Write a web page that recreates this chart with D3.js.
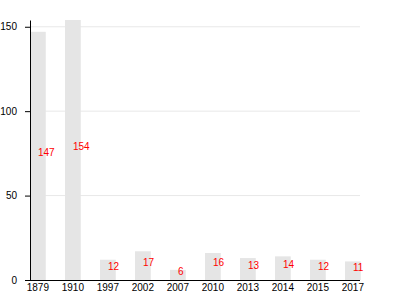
<!DOCTYPE html>
<html>
<head>
<meta charset="utf-8">
<script src="https://cdn.jsdelivr.net/npm/d3@7"></script>
<style>
  body { margin: 0; background: #fff; }
  svg { font-family: Arial, "Liberation Sans", sans-serif; }
</style>
</head>
<body>
<svg></svg>
<script>
// данные
const years = ["1879", "1910", "1997", "2002", "2007", "2010", "2013", "2014", "2015", "2017"];
const values = [147, 154, 12, 17, 6, 16, 13, 14, 12, 11];
const yTicks = [0, 50, 100, 150];

const width = 400;
const height = 300;
const plotLeft = 30, plotRight = 360.75, plotTop = 20, plotBottom = 280;

const svg = d3.select("svg")
  .attr("width", width)
  .attr("height", height);

const x = d3.scaleBand()
  .domain(years)
  .range([plotLeft, plotRight])
  .paddingInner(0.55)
  .paddingOuter(0);

const y = d3.scaleLinear()
  .domain([0, d3.max(values)])
  .range([plotBottom, plotTop]);

// сетка
svg.append("g")
  .selectAll("line")
  .data(yTicks.filter(t => t > 0))
  .join("line")
  .attr("x1", plotLeft)
  .attr("x2", 360)
  .attr("y1", d => y(d))
  .attr("y2", d => y(d))
  .attr("stroke", "#e8e8e8")
  .attr("stroke-width", 1);

const data = years.map((yr, i) => ({ year: yr, value: values[i] }));

// столбцы
svg.append("g")
  .selectAll("rect")
  .data(data)
  .join("rect")
  .attr("x", d => x(d.year))
  .attr("y", d => y(d.value))
  .attr("width", x.bandwidth())
  .attr("height", d => plotBottom - y(d.value))
  .attr("fill", "#e5e5e5");

// подписи значений
svg.append("g")
  .selectAll("text")
  .data(data)
  .join("text")
  .attr("x", d => x(d.year) + x.bandwidth() / 2)
  .attr("y", d => y(d.value / 2))
  .attr("fill", "red")
  .attr("font-size", 10)
  .text(d => d.value);

// оси
const xAxis = svg.append("g")
  .attr("transform", `translate(0,${plotBottom})`)
  .call(d3.axisBottom(x).tickSize(0).tickPadding(4));
xAxis.select(".domain").attr("d", `M${plotLeft},0.5H360`);

const yAxis = svg.append("g")
  .attr("transform", `translate(${plotLeft},0)`)
  .call(d3.axisLeft(y).tickValues(yTicks).tickSize(5).tickSizeOuter(0).tickPadding(8));

xAxis.attr("font-family", null);
yAxis.attr("font-family", null);
</script>
</body>
</html>
